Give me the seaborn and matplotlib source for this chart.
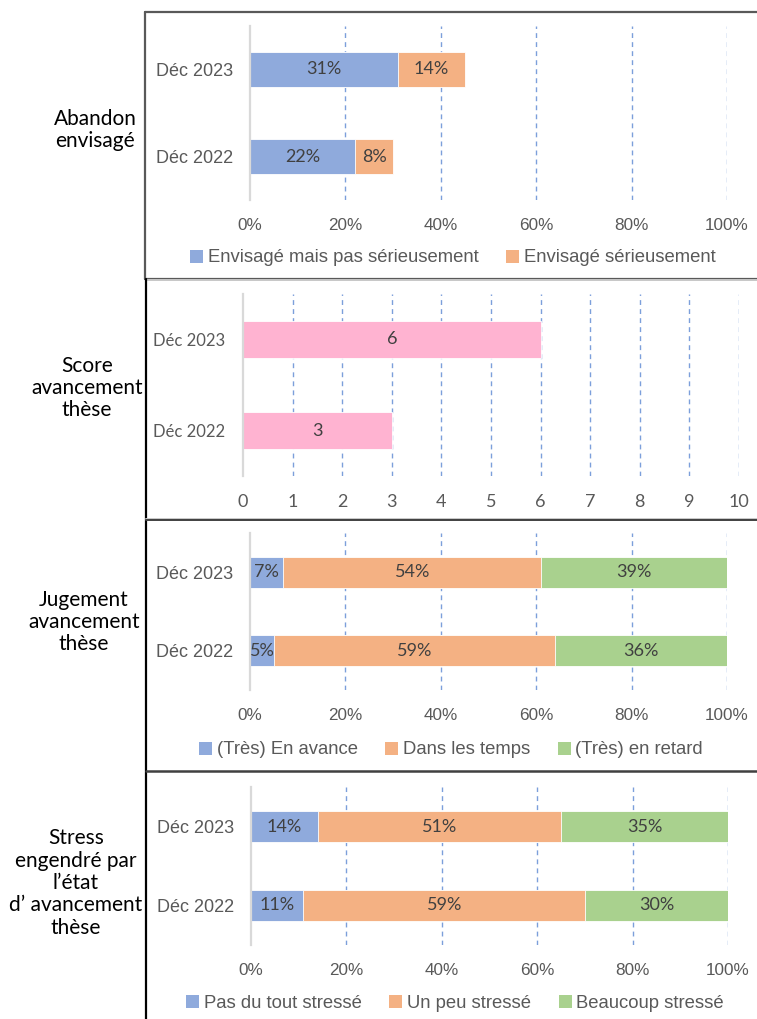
import matplotlib
matplotlib.use("Agg")
import matplotlib.pyplot as plt
import seaborn as sns
import pandas as pd
import numpy as np
from matplotlib.patches import Patch
from matplotlib.lines import Line2D

sns.set_theme(style="white")
plt.rcParams['font.family'] = ['Liberation Sans', 'DejaVu Sans']

# ---------------- data ----------------
periods = ["Déc 2023", "Déc 2022"]

abandon_labels = ["Envisagé mais pas sérieusement", "Envisagé sérieusement"]
abandon_pas_serieux = [31, 22]
abandon_serieux = [14, 8]

score_values = [6, 3]

jugement_labels = ["(Très) En avance", "Dans les temps", "(Très) en retard"]
jugement_avance = [7, 5]
jugement_temps = [54, 59]
jugement_retard = [39, 36]

stress_labels = ["Pas du tout stressé", "Un peu stressé", "Beaucoup stressé"]
stress_pas = [14, 11]
stress_peu = [51, 59]
stress_beaucoup = [35, 30]

panel_titles = ["Abandon\nenvisagé", "Score\navancement\nthèse",
                "Jugement\navancement\nthèse",
                "Stress\nengendré par\nl’état\nd’ avancement\nthèse"]

pct_ticks = [0, 20, 40, 60, 80, 100]
score_ticks = list(range(0, 11))

# ---------------- style ----------------
BLUE = "#8FAADC"
ORANGE = "#F4B183"
GREEN = "#A9D18E"
PINK = "#FFB3D1"
GRID = "#7C9FDB"
AXIS_GRAY = "#D9D9D9"
TXT_GRAY = "#595959"
LBL = "#404040"
ARIAL = "Liberation Sans"
CALIBRI = "Lato"

W, H = 757, 1019
fig = plt.figure(figsize=(W / 100, H / 100), dpi=100)


def px_axes(x0, y0, x1, y1):
    return fig.add_axes([x0 / W, 1 - y1 / H, (x1 - x0) / W, (y1 - y0) / H])


def fig_line(x0, y0, x1, y1, color, lw):
    fig.add_artist(Line2D([x0 / W, x1 / W], [1 - y0 / H, 1 - y1 / H],
                          transform=fig.transFigure, color=color, lw=lw))


def stacked(ax, series, colors, ticks, fmt, label_font, tick_font, fs_tick, fs_lbl,
            ylab_font, fs_ylab, xpad, ypad):
    cum = np.zeros(len(periods))
    cums = []
    for s in series:
        cum = cum + np.array(s, dtype=float)
        cums.append(cum.copy())
    # draw from the total down so that the earlier segments sit on top
    for c, col in reversed(list(zip(cums, colors))):
        df = pd.DataFrame({"period": periods, "value": c})
        sns.barplot(data=df, x="value", y="period", order=periods, orient="h",
                    color=col, saturation=1, width=0.4, ax=ax,
                    edgecolor="white", linewidth=0.6)
    # value labels
    prev = np.zeros(len(periods))
    for s, c in zip(series, cums):
        for i, (v, cc, pp) in enumerate(zip(s, c, prev)):
            ax.text((cc + pp) / 2, i, fmt(v), ha="center", va="center",
                    fontsize=fs_lbl, color=LBL, fontfamily=label_font)
        prev = c
    ax.set_xlim(ticks[0], ticks[-1])
    ax.set_ylim(1.5, -0.5)
    ax.set_xticks(ticks)
    ax.set_xticklabels([fmt(t) for t in ticks])
    for t in ticks[1:]:
        ax.axvline(t, color=GRID, lw=1.0, ls=(0, (3.5, 3)), zorder=0)
    for sp in ["top", "right", "bottom"]:
        ax.spines[sp].set_visible(False)
    ax.spines["left"].set_color(AXIS_GRAY)
    ax.spines["left"].set_linewidth(1.6)
    ax.set_xlabel("")
    ax.set_ylabel("")
    ax.tick_params(axis="both", length=0)
    ax.tick_params(axis="x", pad=xpad, labelsize=fs_tick, labelcolor=TXT_GRAY)
    ax.tick_params(axis="y", pad=ypad, labelsize=fs_ylab, labelcolor=TXT_GRAY)
    for t in ax.get_xticklabels():
        t.set_fontfamily(tick_font)
    for t in ax.get_yticklabels():
        t.set_fontfamily(ylab_font)
    ax.set_facecolor("none")


def pct(v):
    return f"{v:g}%"


def num(v):
    return f"{v:g}"


# Panel 1
ax1 = px_axes(250, 26, 727, 200)
stacked(ax1, [abandon_pas_serieux, abandon_serieux], [BLUE, ORANGE], pct_ticks,
        pct, CALIBRI, ARIAL, 12.3, 13, ARIAL, 13, 13, 12)

# Panel 2
ax2 = px_axes(243, 294, 739, 476)
stacked(ax2, [score_values], [PINK], score_ticks, num, CALIBRI, CALIBRI, 13, 13,
        CALIBRI, 12, 13, 13)

# Panel 3
ax3 = px_axes(250, 533, 727, 690)
stacked(ax3, [jugement_avance, jugement_temps, jugement_retard],
        [BLUE, ORANGE, GREEN], pct_ticks, pct, CALIBRI, ARIAL, 12.3, 13, ARIAL, 13, 13, 12)

# Panel 4
ax4 = px_axes(251, 787, 728, 945)
stacked(ax4, [stress_pas, stress_peu, stress_beaucoup],
        [BLUE, ORANGE, GREEN], pct_ticks, pct, CALIBRI, ARIAL, 12.3, 13, ARIAL, 13, 13, 12)


# Legends
def legend(ax, labels, colors, cx, cy):
    handles = [Patch(facecolor=c, edgecolor="none", label=l) for l, c in zip(labels, colors)]
    ax.legend(handles=handles, loc="center", bbox_to_anchor=(cx / W, 1 - cy / H),
              bbox_transform=fig.transFigure, ncol=len(handles), frameon=False,
              handlelength=0.7, handleheight=0.7, handletextpad=0.25,
              columnspacing=1.5, labelcolor=TXT_GRAY,
              prop={"family": ARIAL, "size": 13.3})


legend(ax1, abandon_labels, [BLUE, ORANGE], 453, 258)
legend(ax3, jugement_labels, [BLUE, ORANGE, GREEN], 451, 750)
legend(ax4, stress_labels, [BLUE, ORANGE, GREEN], 455, 1003)

# Left panel titles
title_x = [95, 87, 84, 76]
title_y = [130, 388, 622, 883]
for t, x, y in zip(panel_titles, title_x, title_y):
    fig.text(x / W, 1 - y / H, t, ha="center", va="center", fontsize=15,
             fontfamily=CALIBRI, color="black", linespacing=1.15)

# Panel frames
DARK = "#595959"
fig_line(145, 12, 757, 12, DARK, 1.6)
fig_line(145, 12, 145, 279, DARK, 1.6)
fig_line(145, 279, 757, 279, DARK, 1.6)
fig_line(146, 280, 757, 280, "#C8C8C8", 1.4)
fig_line(146, 279, 146, 1019, "black", 1.6)
fig_line(146, 519, 757, 519, "#C8C8C8", 1.4)
fig_line(146, 520, 757, 520, "#404040", 1.4)
fig_line(146, 771, 757, 771, "#404040", 1.8)

fig.savefig("out.png", dpi=100, facecolor="white")
